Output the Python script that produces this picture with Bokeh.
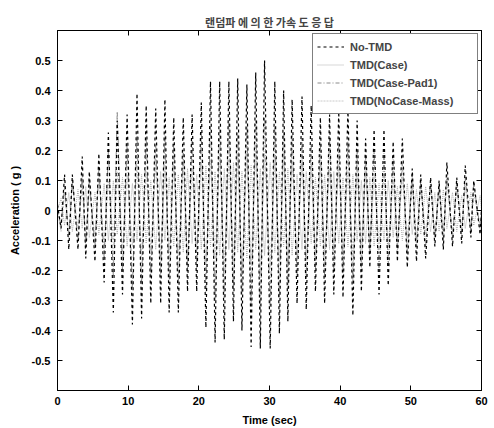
from bokeh.plotting import figure
from bokeh.models import Range1d, LinearAxis, FixedTicker, Legend, LegendItem, ColumnDataSource
from bokeh.embed import file_html
from bokeh.resources import INLINE

# ---- data (successive extremes of each response) ----
time_s = [0.0,
          0.5, 1.0, 1.6, 2.1, 2.9, 3.5, 4.0, 4.5, 5.3, 5.85,
          6.6, 7.2, 7.9, 8.45, 9.2, 9.85, 10.6, 11.25, 11.9, 12.55,
          13.2, 13.9, 14.6, 15.2, 15.8, 16.45, 17.1, 17.8, 18.4, 19.05,
          19.7, 20.35, 21.0, 21.65, 22.3, 22.95, 23.6, 24.25, 24.9, 25.5,
          26.1, 26.8, 27.4, 28.05, 28.7, 29.3, 30.1, 30.75, 31.4, 32.0,
          32.6, 33.2, 33.9, 34.6, 35.2, 35.9, 36.5, 37.2, 37.8, 38.5,
          39.1, 39.8, 40.4, 41.1, 41.8, 42.4, 43.0, 43.6, 44.2, 44.8,
          45.5, 46.2, 46.8, 47.5, 48.1, 48.8, 49.5, 50.2, 50.8, 51.4,
          52.1, 52.8, 53.4, 54.0, 54.6, 55.1, 55.9, 56.5, 57.2, 57.7,
          58.5, 58.9,
          59.8, 60.0]

no_tmd = [0.02,
          -0.06, 0.12, -0.13, 0.12, -0.13, 0.18, -0.16, 0.13, -0.17, 0.19,
          -0.24, 0.26, -0.34, 0.30, -0.28, 0.32, -0.38, 0.39, -0.36, 0.35,
          -0.31, 0.34, -0.31, 0.37, -0.34, 0.31, -0.34, 0.31, -0.27, 0.32,
          -0.27, 0.36, -0.39, 0.43, -0.44, 0.43, -0.43, 0.43, -0.37, 0.44,
          -0.40, 0.42, -0.455, 0.46, -0.46, 0.50, -0.46, 0.43, -0.41, 0.40,
          -0.37, 0.37, -0.31, 0.38, -0.33, 0.35, -0.27, 0.31, -0.31, 0.32,
          -0.28, 0.33, -0.29, 0.34, -0.35, 0.30, -0.27, 0.24, -0.19, 0.27,
          -0.28, 0.27, -0.25, 0.23, -0.17, 0.24, -0.19, 0.14, -0.17, 0.12,
          -0.16, 0.11, -0.12, 0.10, -0.13, 0.16, -0.12, 0.11, -0.11, 0.15,
          -0.09, 0.10,
          -0.08, 0.0]

tmd_case = [0.0,
            0.04, -0.05, 0.06, -0.07, 0.07, -0.06, 0.08, -0.09, 0.06, -0.08,
            0.09, -0.10, 0.10, -0.08, 0.11, -0.12, 0.09, -0.10, 0.12, -0.11,
            0.10, -0.13, 0.13, -0.10, 0.11, -0.12, 0.12, -0.14, 0.14, -0.11,
            0.12, -0.13, 0.15, -0.12, 0.13, -0.15, 0.14, -0.13, 0.16, -0.14,
            0.13, -0.16, 0.15, -0.13, 0.14, -0.15, 0.16, -0.14, 0.13, -0.12,
            0.14, -0.15, 0.12, -0.13, 0.13, -0.11, 0.11, -0.12, 0.12, -0.13,
            0.13, -0.11, 0.11, -0.12, 0.12, -0.10, 0.10, -0.11, 0.11, -0.12,
            0.09, -0.10, 0.10, -0.09, 0.08, -0.10, 0.09, -0.08, 0.07, -0.08,
            0.08, -0.07, 0.06, -0.07, 0.07, -0.06, 0.06, -0.07, 0.05, -0.06,
            0.06, -0.05,
            0.05, 0.0]

tmd_case_pad1 = [0.0,
                 -0.05, 0.08, -0.09, 0.10, -0.10, 0.12, -0.12, 0.10, -0.12, 0.14,
                 -0.16, 0.20, -0.22, 0.33, -0.20, 0.22, -0.26, 0.25, -0.24, 0.24,
                 -0.22, 0.22, -0.21, 0.25, -0.23, 0.22, -0.24, 0.20, -0.20, 0.24,
                 -0.19, 0.26, -0.27, 0.28, -0.30, 0.27, -0.29, 0.30, -0.26, 0.26,
                 -0.28, 0.28, -0.32, 0.30, -0.33, 0.31, -0.32, 0.28, -0.29, 0.26,
                 -0.26, 0.25, -0.22, 0.24, -0.23, 0.22, -0.20, 0.22, -0.22, 0.24,
                 -0.20, 0.22, -0.21, 0.23, -0.24, 0.20, -0.19, 0.18, -0.14, 0.20,
                 -0.20, 0.19, -0.18, 0.17, -0.13, 0.16, -0.14, 0.12, -0.12, 0.10,
                 -0.12, 0.10, -0.09, 0.09, -0.10, 0.12, -0.09, 0.10, -0.08, 0.11,
                 -0.07, 0.09,
                 -0.06, 0.0]

tmd_nocase_mass = [0.0,
                   -0.07, 0.06, -0.08, 0.09, -0.06, 0.08, -0.10, 0.07, -0.09, 0.11,
                   -0.12, 0.10, -0.10, 0.13, -0.14, 0.12, -0.12, 0.15, -0.15, 0.13,
                   -0.13, 0.16, -0.16, 0.14, -0.14, 0.15, -0.15, 0.17, -0.17, 0.14,
                   -0.14, 0.16, -0.18, 0.17, -0.16, 0.19, -0.19, 0.17, -0.17, 0.18,
                   -0.20, 0.19, -0.18, 0.20, -0.21, 0.19, -0.19, 0.18, -0.17, 0.19,
                   -0.18, 0.16, -0.15, 0.17, -0.16, 0.15, -0.14, 0.16, -0.15, 0.14,
                   -0.13, 0.15, -0.14, 0.13, -0.15, 0.12, -0.12, 0.13, -0.13, 0.11,
                   -0.11, 0.12, -0.12, 0.10, -0.10, 0.11, -0.09, 0.08, -0.10, 0.09,
                   -0.08, 0.08, -0.09, 0.07, -0.07, 0.09, -0.08, 0.07, -0.06, 0.08,
                   -0.07, 0.06,
                   -0.05, 0.0]

series_names = ["No-TMD", "TMD(Case)", "TMD(Case-Pad1)", "TMD(NoCase-Mass)"]
x_ticks = [0, 10, 20, 30, 40, 50, 60]
y_ticks = [-0.5, -0.4, -0.3, -0.2, -0.1, 0, 0.1, 0.2, 0.3, 0.4, 0.5]
y_tick_labels = ["-0.5", "-0.4", "-0.3", "-0.2", "-0.1", "0",
                 "0.1", "0.2", "0.3", "0.4", "0.5"]

src = ColumnDataSource(dict(t=time_s, a=no_tmd, b=tmd_case,
                            c=tmd_case_pad1, d=tmd_nocase_mass))

FONT = "Liberation Sans"

p = figure(width=494, height=428,
           x_range=Range1d(0, 60), y_range=Range1d(-0.6, 0.6),
           output_backend="svg", toolbar_location=None,
           min_border_left=57, min_border_right=13,
           min_border_top=30, min_border_bottom=37)

p.title.text = "랜덤파 에 의 한 가속 도 응 답"
p.title.align = "center"
p.title.text_font = "Noto Sans CJK KR"
p.title.text_font_size = "11px"
p.title.text_font_style = "bold"
p.title.standoff = 2

p.xgrid.visible = False
p.ygrid.visible = False
p.outline_line_color = "black"
p.outline_line_width = 1

def style_axis(ax, labels=True):
    ax.major_tick_in = 5
    ax.major_tick_out = 0
    ax.minor_tick_line_color = None
    ax.axis_line_color = "black"
    ax.major_tick_line_color = "black"
    ax.major_label_text_font = FONT
    ax.major_label_text_font_style = "bold"
    ax.axis_label_text_font = FONT
    ax.axis_label_text_font_style = "bold"
    ax.axis_label_text_font_size = "11px"
    ax.axis_label_text_color = "black"
    if labels:
        ax.major_label_text_font_size = "11px"
        ax.major_label_text_color = "black"
    else:
        ax.major_label_text_font_size = "1px"
        ax.major_label_text_color = None
        ax.major_label_standoff = 0

p.xaxis.ticker = FixedTicker(ticks=x_ticks)
p.yaxis.ticker = FixedTicker(ticks=y_ticks)
p.yaxis.major_label_overrides = {v: s for v, s in zip(y_ticks, y_tick_labels)}
style_axis(p.xaxis[0])
style_axis(p.yaxis[0])
p.xaxis.axis_label = "Time (sec)"
p.yaxis.axis_label = "Acceleration ( g )"
p.xaxis.major_label_standoff = 6
p.yaxis.major_label_standoff = 7
p.xaxis.axis_label_standoff = 6
p.yaxis.axis_label_standoff = 8

top_ax = LinearAxis(ticker=FixedTicker(ticks=x_ticks))
style_axis(top_ax, labels=False)
p.add_layout(top_ax, "above")
right_ax = LinearAxis(ticker=FixedTicker(ticks=y_ticks))
style_axis(right_ax, labels=False)
p.add_layout(right_ax, "right")

r_b = p.line("t", "b", source=src, line_color="#a8a8a8", line_width=0.9,
             line_dash="1 1")
r_d = p.line("t", "d", source=src, line_color="#c4c4c4", line_width=0.9,
             line_dash="2 1")
r_c = p.line("t", "c", source=src, line_color="#8a8a8a", line_width=1.0,
             line_dash="4 2 1 2")
r_a = p.line("t", "a", source=src, line_color="black", line_width=1.2,
             line_dash="3 3")

legend = Legend(items=[LegendItem(label=series_names[0], renderers=[r_a]),
                       LegendItem(label=series_names[1], renderers=[r_b]),
                       LegendItem(label=series_names[2], renderers=[r_c]),
                       LegendItem(label=series_names[3], renderers=[r_d])],
                location="top_right")
legend.border_line_color = "black"
legend.border_line_width = 1
legend.background_fill_color = "white"
legend.background_fill_alpha = 1
legend.label_text_font = FONT
legend.label_text_font_size = "11px"
legend.label_text_font_style = "bold"
legend.padding = 4
legend.spacing = 1
legend.label_height = 17
legend.glyph_height = 17
legend.glyph_width = 27
legend.label_standoff = 6
legend.margin = 3
legend.label_width = 123
p.add_layout(legend)

open("out.html", "w").write(file_html(p, INLINE))
